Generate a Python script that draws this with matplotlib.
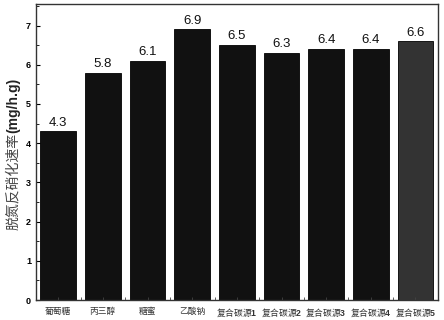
import matplotlib
matplotlib.use("Agg")
import matplotlib.pyplot as plt
from matplotlib.ticker import MultipleLocator

plt.rcParams['font.family'] = ['Noto Sans CJK SC', 'DejaVu Sans']
plt.rcParams['mathtext.fontset'] = 'custom'
plt.rcParams['mathtext.bf'] = 'Liberation Sans:bold'
plt.rcParams['mathtext.rm'] = 'Liberation Sans'

# ------------------------------
# Data
# ------------------------------
carbon_sources = ['葡萄糖', '丙三醇', '糖蜜', '乙酸钠', '复合碳源$\\mathbf{1}$',
                  '复合碳源$\\mathbf{2}$', '复合碳源$\\mathbf{3}$',
                  '复合碳源$\\mathbf{4}$', '复合碳源$\\mathbf{5}$']
rates = [4.3, 5.8, 6.1, 6.9, 6.5, 6.3, 6.4, 6.4, 6.6]
bar_colors = ['#111111'] * 8 + ['#333333']

# ------------------------------
# Bar chart
# ------------------------------
fig = plt.figure(figsize=(4.44, 3.2), dpi=100)
ax = fig.add_axes([0.081, 0.0625, 0.905, 0.925])

x = list(range(len(carbon_sources)))
ax.bar(x, rates, width=0.8, color=bar_colors, edgecolor='black', linewidth=0.6)

for xi, v in zip(x, rates):
    ax.text(xi, v + 0.07, f'{v}', ha='center', va='bottom', fontsize=9.5,
            family='Liberation Sans', color='#111111')

ax.set_xlim(-0.5, len(carbon_sources) - 0.5)
ax.set_ylim(0, 7.55)
ax.set_xticks(x)
ax.set_xticks([i + 0.5 for i in x[:-1]], minor=True)
ax.set_xticklabels(carbon_sources, fontsize=6.3, color='#333333')
ax.yaxis.set_major_locator(MultipleLocator(1))
ax.yaxis.set_minor_locator(MultipleLocator(0.5))
ax.tick_params(axis='y', direction='in', labelsize=6.5, length=3, width=0.8)
ax.tick_params(axis='y', which='minor', direction='in', length=2, width=0.6)
ax.tick_params(axis='x', which='both', direction='in', length=2, width=0.6, pad=5,
               color='#444444')
for lbl in ax.get_yticklabels():
    lbl.set_fontweight('bold')
    lbl.set_family('Liberation Sans')

# y label: Chinese part plus bold unit, stacked vertically
ylab = fig.text(13 / 444, 0.281, '脱氮反硝化速率', rotation=90, ha='center',
                va='bottom', fontsize=10, color='#444444')
ax.annotate('(mg/h.g)', xy=(0.5, 1.0), xycoords=ylab, rotation=90,
            ha='center', va='bottom', fontsize=10, fontweight='bold',
            family='Liberation Sans', color='#222222')

for s in ax.spines.values():
    s.set_linewidth(1.0)
    s.set_color('#333333')

fig.savefig('out.png', dpi=100)
